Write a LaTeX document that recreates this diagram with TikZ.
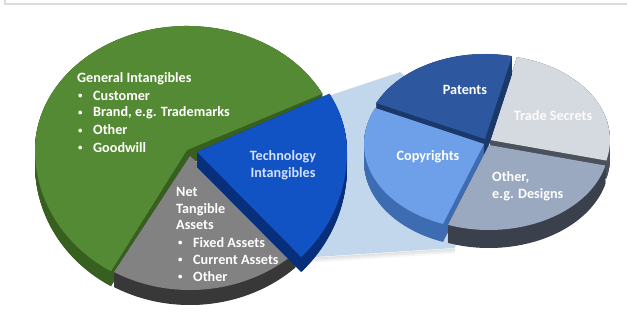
\documentclass[tikz,border=0pt]{standalone}
\usepackage{fontspec}
\setmainfont{Carlito}

% palette
\definecolor{frameline}{HTML}{DCDCDC}
\definecolor{greentop}{HTML}{558A34}
\definecolor{greenside}{HTML}{365F20}
\definecolor{techtop}{HTML}{1152C4}
\definecolor{techside}{HTML}{072F7C}
\definecolor{techtext}{HTML}{D2E2FF}
\definecolor{graytop}{HTML}{828282}
\definecolor{grayside}{HTML}{383838}
\definecolor{zoomband}{HTML}{C3D7EC}
\definecolor{pattop}{HTML}{2D579F}
\definecolor{patside}{HTML}{1B386B}
\definecolor{secrtop}{HTML}{D5D9E0}
\definecolor{secrside}{HTML}{4C525B}
\definecolor{copytop}{HTML}{6DA0E9}
\definecolor{copyside}{HTML}{3D6CB3}
\definecolor{othtop}{HTML}{9AA9BF}
\definecolor{othside}{HTML}{3A414C}

% a pie slice with thickness: the side is swept downwards, then the top face
\newcommand\solidslice[4]{% #1 top-face path, #2 depth, #3 side colour, #4 top colour
  \foreach \dd in {0,0.5,...,#2}{\fill[#3, yshift=-\dd] #1;}
  \fill[#4] #1;}

\tikzset{
  lbl/.style={text=white, font=\bfseries\fontsize{14.2}{17}\selectfont, inner sep=0pt},
  bul/.style={lbl, anchor=base west},
}
\newcommand\bitem[1]{\makebox[15pt][l]{\raisebox{1.6pt}{\scalebox{0.62}{\textbullet}}}#1}

\begin{document}
\begin{tikzpicture}[x=1pt,y=1pt]
\useasboundingbox (0,0) rectangle (627,322);

% frame
\draw[frameline, line width=2pt] (5,322) -- (5,317.5) -- (627,317.5);

% soft shadow under the linking band
\foreach \s/\o in {1/0.10,2/0.08,3/0.06,4/0.04,5/0.025}
  \draw[black, opacity=\o, line width=1.2pt] (300,64-\s) -- (455,74-\s);

% band linking the technology slice to the detail pie
\fill[zoomband] (322,224) -- (400,250) -- (480,182) -- (455,74) -- (300,64) -- cycle;

% ---- main pie ----
\solidslice{(187,172) -- ++(27:152 and 124)
  arc[start angle=27, end angle=180, x radius=152pt, y radius=124pt]
  arc[start angle=180, end angle=240, x radius=152pt, y radius=140pt] -- cycle}
  {15}{greenside}{greentop}
\solidslice{(190,166) -- ++(240:152 and 134)
  arc[start angle=240, end angle=314, x radius=152pt, y radius=134pt] -- cycle}
  {15}{grayside}{graytop}
\solidslice{(197,170) -- ++(314:150 and 146)
  arc[start angle=314, end angle=360, x radius=150pt, y radius=146pt]
  arc[start angle=0, end angle=28, x radius=150pt, y radius=124pt] -- cycle}
  {15}{techside}{techtop}

% ---- detail pie ----
\solidslice{(490,182) -- ++(-14:120 and 85)
  arc[start angle=-14, end angle=77, x radius=120pt, y radius=85pt] -- cycle}
  {18}{secrside}{secrtop}
\solidslice{(485,183) -- ++(77:120 and 85)
  arc[start angle=77, end angle=155, x radius=120pt, y radius=85pt] -- cycle}
  {18}{patside}{pattop}
\solidslice{(484,178) -- ++(155:120 and 85)
  arc[start angle=155, end angle=250, x radius=120pt, y radius=85pt] -- cycle}
  {18}{copyside}{copytop}
\solidslice{(489,177) -- ++(250:120 and 85)
  arc[start angle=250, end angle=346, x radius=120pt, y radius=85pt] -- cycle}
  {18}{othside}{othtop}

% ---- labels ----
\node[bul] (gi)  at (77,239) {General Intangibles};
\node[bul] (gi1) at (78,222) {\bitem{Customer}};
\node[bul] (gi2) at (78,205) {\bitem{Brand, e.g. Trademarks}};
\node[bul] (gi3) at (78,187) {\bitem{Other}};
\node[bul] (gi4) at (78,170) {\bitem{Goodwill}};

\node[lbl, text=techtext, anchor=base] (ti1) at (283,162) {Technology};
\node[lbl, text=techtext, anchor=base] (ti2) at (283,145) {Intangibles};

\node[bul] (nt1) at (176,126) {Net};
\node[bul] (nt2) at (176,109) {Tangible};
\node[bul] (nt3) at (176,92.5) {Assets};
\node[bul] (nt4) at (178,75) {\bitem{Fixed Assets}};
\node[bul] (nt5) at (178,57.5) {\bitem{Current Assets}};
\node[bul] (nt6) at (178,41) {\bitem{Other}};

\node[lbl, anchor=base] (pa) at (465,227) {Patents};
\node[lbl, text=white!92!secrtop, anchor=base] (ts) at (553,201) {Trade Secrets};
\node[lbl, anchor=base] (co) at (428,162) {Copyrights};
\node[bul] (ot1) at (492,141) {Other,};
\node[bul] (ot2) at (492,124) {e.g. Designs};
\end{tikzpicture}
\end{document}
